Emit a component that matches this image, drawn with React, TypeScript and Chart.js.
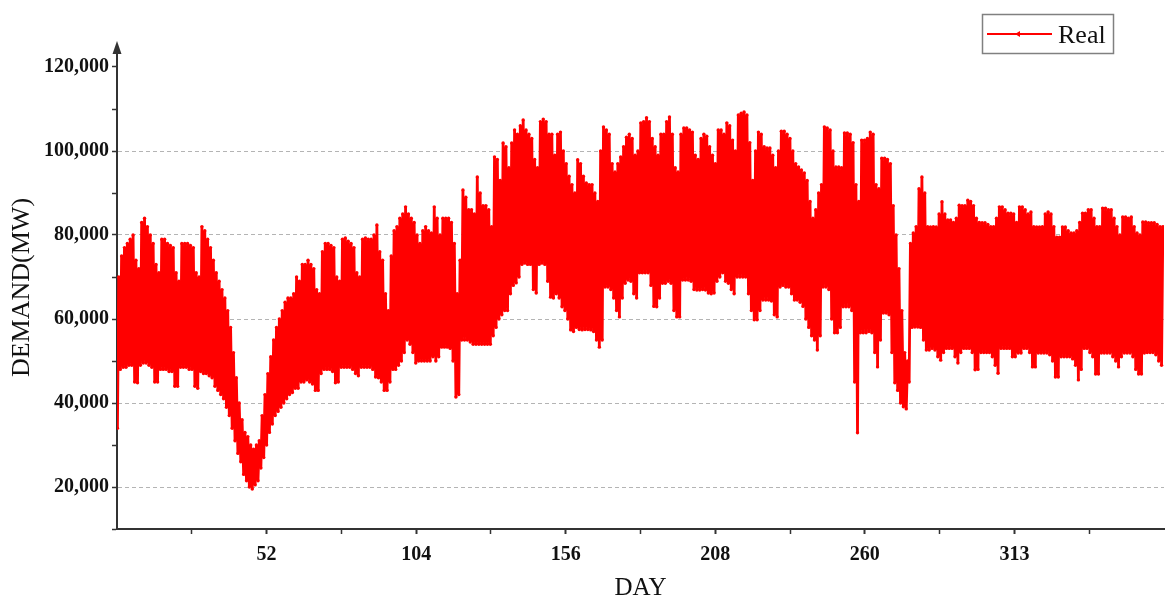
import React, { useEffect, useRef } from "react";
import { Chart, registerables } from "chart.js";

Chart.register(...registerables);

const SERIES_NAME = "Real";
const X_TITLE = "DAY";
const Y_TITLE = "DEMAND(MW)";
const RED = "#ff0000";
const FONT = '"Liberation Serif", "Times New Roman", serif';

// Daily peak demand (thousand MW), day 0..364
const dailyMaxK = [
  70, 75, 77, 78, 79, 80, 74,
  72, 83, 84, 82, 80, 78, 73,
  71, 79, 79, 78, 77.5, 77, 71,
  69, 78, 78, 78, 77.5, 77, 71,
  70, 82, 81, 79, 77, 74, 71,
  69, 67, 65, 62, 58, 52, 46,
  40, 36, 33, 32, 30, 29, 30,
  31, 37, 42, 47, 51, 55, 58,
  60, 62, 64, 65, 65, 66, 70,
  69, 73, 73, 74, 73, 72, 67,
  66, 76, 78, 78, 77.5, 77, 70,
  69, 79, 79.3, 78.5, 78, 77, 71,
  70, 79, 79.3, 79, 79, 80, 82.4,
  76, 74, 66, 62, 75, 81, 82,
  84, 85, 86.7, 85, 84, 83, 80,
  78, 81, 82, 81, 80.5, 86.7, 84,
  80, 84, 84, 84, 83, 78, 66,
  74, 90.7, 89, 86, 86, 85, 93.8,
  90, 87, 87, 86, 82, 98.6, 98,
  93, 101.9, 101, 96, 101.9, 105, 104,
  106, 107.4, 105, 104, 103, 98, 96,
  107, 107.6, 107, 104, 104, 99, 104,
  104.5, 100, 97, 94, 92, 90, 97.9,
  97, 94, 92.4, 92, 92, 90, 88,
  100, 105.7, 105, 104, 97, 95, 97,
  98.6, 101, 103.3, 104, 103, 99, 100,
  106.7, 107, 107.9, 107, 103, 101, 99,
  104, 104, 107, 108.1, 104, 96, 95,
  104, 105.5, 105.5, 105, 104.5, 99, 98,
  103, 104, 103.5, 101, 99, 97, 105,
  105, 104, 106.7, 106, 102.6, 100, 108.6,
  109, 109.3, 108.6, 102, 93, 100, 104.5,
  104, 101, 100.7, 100.7, 99, 96, 100,
  104.7, 104.7, 104, 103, 100, 97, 96.2,
  95.5, 94.8, 93, 88, 84, 86, 90,
  92, 105.7, 105.5, 105, 100, 96.2, 96.2,
  96, 104.3, 104.3, 104, 102, 92, 88,
  102.6, 102.6, 103, 104.5, 104, 92, 91,
  98.3, 98.3, 98, 97, 87, 80, 72,
  62, 52, 50, 78, 80.5, 82, 91,
  93.8, 90, 82, 81.9, 82, 81.9, 85,
  87.9, 85, 83.6, 83.6, 83, 84, 87.1,
  87, 87, 88.3, 88, 87, 84, 83,
  82.9, 82.9, 82.5, 82, 82, 84, 86.7,
  86.7, 86, 85.2, 85.2, 85, 83, 86.7,
  86.7, 86, 85, 85.5, 82, 81.9, 81.9,
  82, 85, 85.5, 85, 82, 79.5, 79.5,
  81.9, 81.9, 81, 80.5, 80.5, 81, 83,
  85.2, 85.2, 86, 86, 84, 82, 82,
  86.4, 86.4, 86, 86, 84, 82, 80,
  84.3, 84.3, 84, 84.3, 82, 80.5, 80,
  83.1, 83.1, 82.9, 82.9, 82.9, 82.5, 82,
  82,
];

// Daily minimum demand (thousand MW), day 0..364
const dailyMinK = [
  34, 48, 48.5, 48.5, 49, 49, 45,
  44.8, 49, 49.5, 49.5, 49, 48.5, 45,
  45, 48, 48, 48, 47.5, 47.5, 44,
  44, 48.5, 48.5, 48.5, 48, 48, 44,
  43.5, 47.5, 47, 47, 46.5, 46, 44,
  43, 42, 41, 39, 37, 34, 31,
  28, 26, 23, 21.5, 20, 19.5, 20.5,
  21.5, 24.5, 27, 30, 33, 35, 37,
  38, 39, 40, 41, 42, 42.5, 43.5,
  43.5, 45, 45, 45.5, 45, 44.5, 43,
  43, 47, 48, 48, 48, 47.5, 44.8,
  45, 48.5, 48.5, 48.5, 48.5, 48, 47,
  46.5, 48.5, 48.5, 48.5, 48.5, 48, 46.2,
  46, 45, 43, 43, 45, 48, 48,
  49, 50, 52, 55, 54, 52, 49.5,
  50, 50, 50, 50, 50, 51, 50,
  51, 53.3, 53.3, 53.3, 53, 50, 41.4,
  42, 55, 55, 55, 54.5, 54, 54,
  54, 54, 54, 54, 54, 56, 58,
  60, 61, 62, 62, 66, 68, 68.6,
  70, 73, 73.3, 73, 73, 67, 66.2,
  73, 73.3, 73, 69, 65.2, 65, 66,
  65, 62.9, 62, 60, 57.4, 57, 58,
  57.5, 57.4, 57.5, 57.5, 57.4, 57, 55,
  53.3, 55, 67.6, 67.6, 67, 65, 62,
  60.5, 65, 68.5, 69.3, 69, 66, 65,
  71, 71, 71, 71, 68, 63, 62.9,
  65, 68.5, 68.5, 69, 68.5, 62, 60.5,
  60.5, 69.3, 69.3, 69.3, 69, 67, 66.9,
  66.9, 67, 66.9, 66.2, 66, 66.2, 69,
  70, 71, 69, 68.5, 67, 66, 70,
  70, 70, 70, 66, 62, 59.8, 59.8,
  62, 64.5, 64.5, 64.5, 64.3, 61, 60.5,
  67.6, 68, 67.6, 67.6, 66, 64.5, 64.5,
  64, 63, 60, 58, 56, 55, 52.6,
  56, 67.6, 67.6, 67, 60, 56.7, 56.7,
  58, 62.9, 62.9, 62.9, 62, 45, 32.9,
  56.7, 56.7, 56.7, 57, 56.7, 52, 48.6,
  55, 61.4, 61.4, 61, 52, 44.8, 43,
  40, 39.1, 38.6, 45, 58, 58.1, 58.1,
  58, 55, 52.6, 52.6, 53, 52.6, 51,
  50.2, 52, 53, 53, 53, 51, 49.5,
  52, 53, 53, 53, 52, 47.9, 48,
  52, 52, 52, 52, 51, 49, 47.1,
  53, 53, 53, 53, 51, 51, 51.9,
  51.9, 53, 53, 52, 48.6, 48.6, 51.9,
  51.9, 51.9, 51.9, 51.5, 50, 46.2, 46.2,
  51, 51, 51, 51, 50.5, 49, 45.5,
  48, 53, 53, 52, 51, 46.9, 46.9,
  51.9, 51.9, 51.9, 51.9, 51, 50, 48.6,
  51, 51.9, 51.9, 51.9, 51, 48, 46.9,
  46.9, 51.9, 52, 52, 52, 51.5, 50,
  49,
];

const xMajorTicks = [52.14, 104.29, 156.43, 208.57, 260.71, 312.86];
const xMajorLabels = ["52", "104", "156", "208", "260", "313"];
const xMinorTicks = [26.07, 78.21, 130.36, 182.5, 234.64, 286.79, 338.93];
const yTickValues = [10000, 20000, 30000, 40000, 50000, 60000, 70000, 80000, 90000, 100000, 110000, 120000];
const yLabelValues = [20000, 40000, 60000, 80000, 100000, 120000];
const yGridValues = [20000, 40000, 60000, 80000, 100000];
const X_MIN = 0;
const X_MAX = 365;
const Y_MIN = 10000;
const Y_MAX = 125000;

const boxLegendPlugin = {
  id: "boxLegend",
  afterDraw(chart: any) {
    const ctx = chart.ctx as CanvasRenderingContext2D;
    const area = chart.chartArea;
    const yScale = chart.scales.y;
    ctx.save();
    // y-axis arrow head
    ctx.fillStyle = "#333";
    ctx.beginPath();
    ctx.moveTo(area.left, yScale.top - 5);
    ctx.lineTo(area.left - 4.5, yScale.top + 8);
    ctx.lineTo(area.left + 4.5, yScale.top + 8);
    ctx.closePath();
    ctx.fill();
    // legend box
    ctx.strokeStyle = "#808080";
    ctx.lineWidth = 1.5;
    ctx.strokeRect(982.5, 14.5, 131, 39);
    ctx.strokeStyle = RED;
    ctx.lineWidth = 2;
    ctx.beginPath();
    ctx.moveTo(987, 34);
    ctx.lineTo(1052, 34);
    ctx.stroke();
    ctx.fillStyle = RED;
    ctx.beginPath();
    ctx.moveTo(1015, 34);
    ctx.lineTo(1020, 31);
    ctx.lineTo(1020, 37);
    ctx.closePath();
    ctx.fill();
    ctx.fillStyle = "#111";
    ctx.font = `26px ${FONT}`;
    ctx.textBaseline = "alphabetic";
    ctx.textAlign = "left";
    ctx.fillText(SERIES_NAME, 1058, 43);
    ctx.restore();
  },
};

function near(a: number, b: number) {
  return Math.abs(a - b) < 0.01;
}

export default function App() {
  const ref = useRef<HTMLCanvasElement>(null);

  useEffect(() => {
    const canvas = ref.current;
    if (!canvas) return;
    const n = Math.min(dailyMaxK.length, dailyMinK.length);
    const points: { x: number; y: number }[] = [];
    for (let d = 0; d < n; d++) {
      points.push({ x: d + 0.15, y: dailyMinK[d] * 1000 });
      points.push({ x: d + 0.6, y: dailyMaxK[d] * 1000 });
    }

    const chart = new Chart(canvas, {
      type: "line",
      data: {
        datasets: [
          {
            label: SERIES_NAME,
            data: points,
            borderColor: RED,
            backgroundColor: RED,
            borderWidth: 2.8,
            pointRadius: 1.7,
            pointBorderWidth: 0,
            pointBackgroundColor: RED,
            tension: 0,
          },
        ],
      },
      options: {
        animation: false,
        responsive: false,
        maintainAspectRatio: false,
        layout: { padding: { left: 0, top: 46, right: 3, bottom: 0 } },
        plugins: {
          legend: { display: false },
          tooltip: { enabled: false },
        },
        scales: {
          x: {
            type: "linear",
            min: X_MIN,
            max: X_MAX,
            afterBuildTicks: (scale: any) => {
              scale.ticks = [...xMinorTicks, ...xMajorTicks]
                .sort((a, b) => a - b)
                .map((v) => ({ value: v }));
            },
            afterFit: (scale: any) => {
              scale.height = 72;
            },
            ticks: {
              autoSkip: false,
              maxRotation: 0,
              padding: 9,
              color: "#111",
              font: { family: FONT, size: 20, weight: "bold" },
              callback: (value: any) => {
                const i = xMajorTicks.findIndex((t) => near(t, Number(value)));
                return i >= 0 ? xMajorLabels[i] : "";
              },
            },
            grid: {
              drawOnChartArea: false,
              tickLength: 5,
              tickColor: "#333",
              tickWidth: (c: any) =>
                c.tick && xMajorTicks.some((t) => near(t, c.tick.value)) ? 2 : 1.5,
            },
            border: { display: true, color: "#333", width: 2 },
            title: {
              display: true,
              text: X_TITLE,
              color: "#111",
              font: { family: FONT, size: 25, lineHeight: 1 },
              padding: { top: 0, bottom: 0 },
            },
          },
          y: {
            type: "linear",
            min: Y_MIN,
            max: Y_MAX,
            afterBuildTicks: (scale: any) => {
              scale.ticks = yTickValues.map((v) => ({ value: v }));
            },
            afterFit: (scale: any) => {
              scale.width = 117;
            },
            ticks: {
              autoSkip: false,
              padding: 3,
              color: "#111",
              font: { family: FONT, size: 20, weight: "bold" },
              callback: (value: any) =>
                yLabelValues.includes(Number(value)) ? Number(value).toLocaleString("en-US") : "",
            },
            grid: {
              color: (c: any) =>
                c.tick && yGridValues.includes(c.tick.value) ? "#b4b4b4" : "rgba(0,0,0,0)",
              lineWidth: 1,
              tickLength: 5,
              tickColor: "#333",
              tickWidth: 1.5,
              tickBorderDash: [],
            },
            border: { display: true, color: "#333", width: 2, dash: [4, 3] },
            title: {
              display: true,
              text: Y_TITLE,
              color: "#111",
              font: { family: FONT, size: 26, lineHeight: 1 },
              padding: { top: 9, bottom: 0 },
            },
          },
        },
      },
      plugins: [boxLegendPlugin],
    } as any);

    return () => chart.destroy();
  }, []);

  return (
    <div style={{ position: "fixed", left: 0, top: 0, width: 1168, height: 601, background: "#fff" }}>
      <canvas ref={ref} width={1168} height={601} style={{ display: "block", width: 1168, height: 601 }} />
    </div>
  );
}
